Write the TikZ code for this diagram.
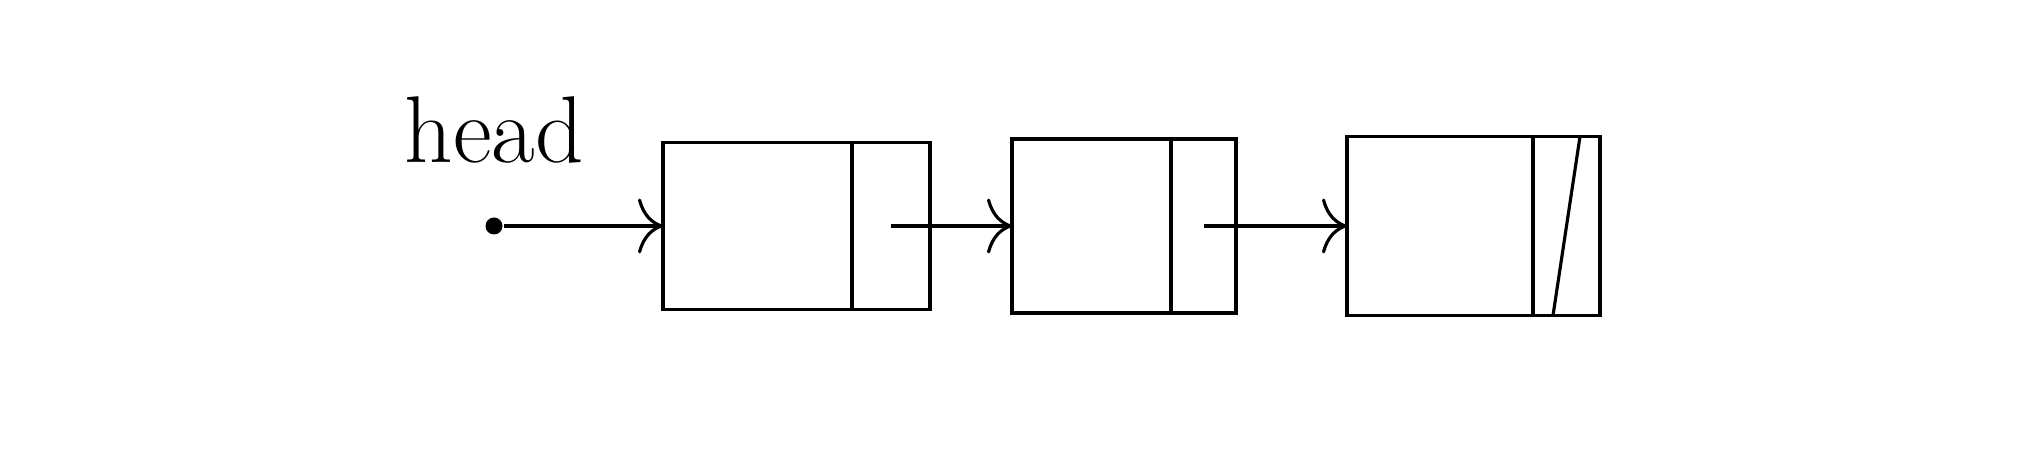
\documentclass[tikz,border=0pt]{standalone}
\usepackage{tikz}
\usetikzlibrary{arrows.meta,positioning}

\begin{document}
\begin{tikzpicture}[line width=0.9pt,
  datafield/.style={rectangle,draw,inner sep=0pt,outer sep=0pt},
  ptrfield/.style={rectangle,draw,inner sep=0pt,outer sep=0pt},
  link/.style={-{Computer Modern Rightarrow[length=2.5mm,width=5.5mm]}}]
  \useasboundingbox (0,0) rectangle (20.40,-4.65);
  \node[anchor=base west,inner sep=0pt,font=\fontsize{27}{30}\selectfont] (head) at (4.03,-1.63) {head};
  \node[circle,fill,inner sep=0pt,minimum size=1.7mm] (hp) at (4.94,-2.26) {};
  % first node
  \node[datafield,minimum width=1.89cm,minimum height=1.67cm] (d1) at (7.575,-2.26) {};
  \node[ptrfield,minimum width=0.78cm,minimum height=1.67cm,right=0pt of d1] (p1) {};
  % second node
  \node[datafield,minimum width=1.59cm,minimum height=1.74cm,right=0.82cm of p1] (d2) {};
  \node[ptrfield,minimum width=0.65cm,minimum height=1.74cm,right=0pt of d2] (p2) {};
  % third node, null pointer
  \node[datafield,minimum width=1.86cm,minimum height=1.79cm,right=1.11cm of p2] (d3) {};
  \node[ptrfield,minimum width=0.67cm,minimum height=1.79cm,right=0pt of d3] (p3) {};
  \draw ([xshift=-2mm]p3.north east) -- ([xshift=2mm]p3.south west);
  \draw[link] (hp) -- (d1.west);
  \draw[link] (p1.center) -- (d2.west);
  \draw[link] (p2.center) -- (d3.west);
\end{tikzpicture}
\end{document}
